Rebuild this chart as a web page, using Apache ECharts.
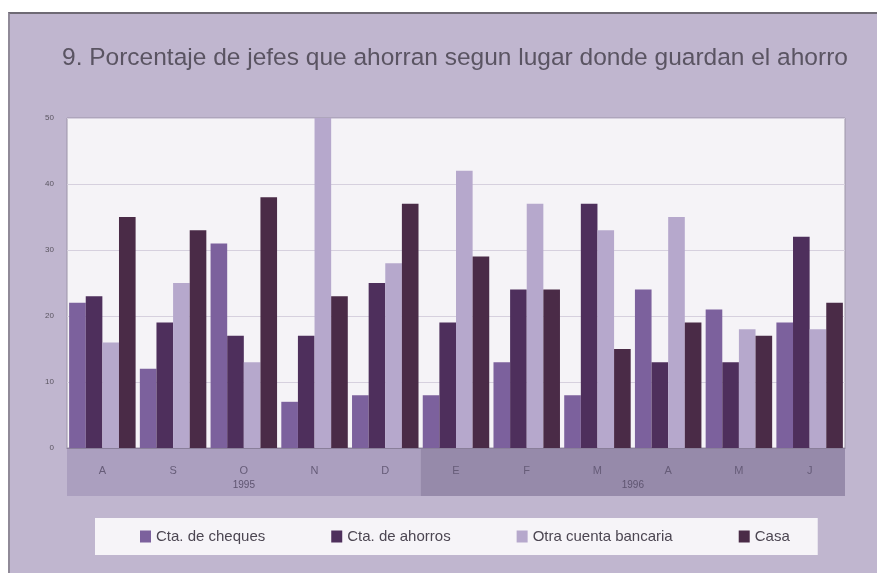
<!DOCTYPE html>
<html>
<head>
<meta charset="utf-8">
<script src="https://cdn.jsdelivr.net/npm/echarts@6/dist/echarts.min.js"></script>
<style>
html,body{margin:0;padding:0;background:#ffffff;}
#bg{position:absolute;left:8px;top:12px;width:869px;height:561px;background:#c0b6cf;border-top:2px solid #6e6a74;border-left:2px solid #908a98;box-sizing:border-box;}
#chart{position:absolute;left:0;top:0;width:877px;height:573px;}
</style>
</head>
<body>
<div id="bg"></div>
<div id="chart"></div>
<script>
const months = ['A','S','O','N','D','E','F','M','A','M','J'];
const years = ['1995','1996'];
const monthsPerYear = [5, 6];
const seriesNames = ['Cta. de cheques','Cta. de ahorros','Otra cuenta bancaria','Casa'];
const cheques = [22, 12, 31, 7, 8, 8, 13, 8, 24, 21, 19];
const ahorros = [23, 19, 17, 17, 25, 19, 24, 37, 13, 13, 32];
const otra    = [16, 25, 13, 50, 28, 42, 37, 33, 35, 18, 18];
const casa    = [35, 33, 38, 23, 37, 29, 24, 15, 19, 17, 22];
const yTicks = [0, 10, 20, 30, 40, 50];

const colors = ['#7c619d','#4e2f5c','#b6a8cc','#4a2b47'];
const values = [cheques, ahorros, otra, casa];

const yearAreas = [];
let start = 0;
years.forEach((y, i) => {
  yearAreas.push([
    {xAxis: start, name: y, itemStyle: {color: i === 0 ? '#ab9fbf' : '#968aaa'}},
    {xAxis: start + monthsPerYear[i]}
  ]);
  start += monthsPerYear[i];
});

const chart = echarts.init(document.getElementById('chart'));
const barSeries = seriesNames.map((n, i) => ({
  name: n,
  type: 'bar',
  data: values[i],
  xAxisIndex: 0,
  yAxisIndex: 0,
  barGap: '0%',
  barCategoryGap: '6%',
  itemStyle: {color: colors[i]},
  z: 2
}));

chart.setOption({
  backgroundColor: 'transparent',
  animation: false,
  textStyle: {fontFamily: 'Liberation Sans, Arial, sans-serif'},
  title: {
    text: '9. Porcentaje de jefes que ahorran segun lugar donde guardan el ahorro',
    left: 57,
    top: 41,
    textStyle: {fontSize: 24.5, fontWeight: 'normal', color: '#5a5462', fontFamily: 'Liberation Sans, Arial, sans-serif'}
  },
  legend: {
    data: seriesNames,
    bottom: 18,
    left: 95,
    itemWidth: 11,
    itemHeight: 12,
    itemGap: 66,
    backgroundColor: '#f6f4f8',
    padding: [11, 28, 11, 45],
    textStyle: {fontSize: 15, color: '#4c4652', fontFamily: 'Liberation Sans, sans-serif'},
    icon: 'rect'
  },
  grid: [
    {left: 67, right: 32, top: 118, bottom: 125, show: true, backgroundColor: '#f5f3f7', borderColor: '#9c94a8', borderWidth: 1},
    {left: 67, right: 32, top: 448, height: 48}
  ],
  xAxis: [
    {
      type: 'category', data: months, gridIndex: 0, z: 5,
      axisLine: {show: true, lineStyle: {color: '#8a7f9a'}},
      axisTick: {show: false},
      axisLabel: {margin: 17, fontSize: 11, color: '#665c78'}
    },
    {type: 'value', gridIndex: 1, min: 0, max: months.length, show: false}
  ],
  yAxis: [
    {
      type: 'value', gridIndex: 0, min: yTicks[0], max: yTicks[yTicks.length - 1], interval: 10,
      axisLine: {show: false}, axisTick: {show: false},
      axisLabel: {margin: 13, fontSize: 8, color: '#5a5560'},
      splitLine: {lineStyle: {color: '#d6d0de'}}
    },
    {type: 'value', gridIndex: 1, min: 0, max: 1, show: false}
  ],
  series: barSeries.concat([{
    type: 'line',
    xAxisIndex: 1,
    yAxisIndex: 1,
    data: [],
    silent: true,
    z: 1,
    markArea: {
      silent: true,
      label: {show: true, position: 'insideBottom', distance: 6, fontSize: 10, color: '#5e5470'},
      data: yearAreas
    }
  }])
});
</script>
</body>
</html>
